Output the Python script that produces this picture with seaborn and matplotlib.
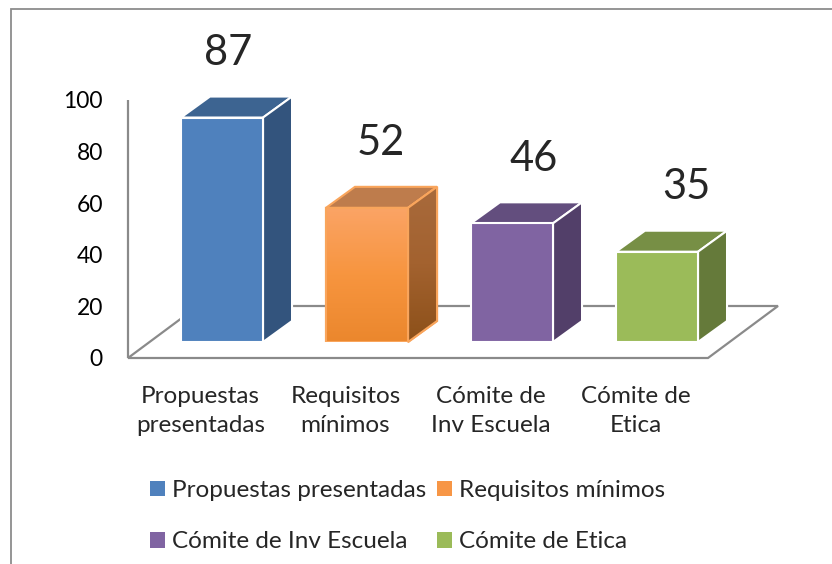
import matplotlib
matplotlib.use("Agg")
import matplotlib.pyplot as plt
import matplotlib.transforms as mtrans
from matplotlib.patches import Polygon, Rectangle, Patch
from matplotlib.colors import LinearSegmentedColormap
import numpy as np
import pandas as pd
import seaborn as sns

# ---------------- data ----------------
categories = ["Propuestas presentadas", "Requisitos mínimos",
              "Cómite de Inv Escuela", "Cómite de Etica"]
tick_labels = ["Propuestas\npresentadas", "Requisitos\nmínimos",
               "Cómite de\nInv Escuela", "Cómite de\nEtica"]
values = [87, 52, 46, 35]
y_ticks = [0, 20, 40, 60, 80, 100]

# ---------------- styles ----------------
front_colors = ["#4F81BD", "#F79646", "#8064A2", "#9BBB59"]
top_colors = ["#3D6491", "#BE7C4C", "#634E7E", "#778F45"]
side_colors = ["#33547D", "#9C5F2E", "#523F69", "#657A3A"]
edge_colors = ["white", "#F9A55C", "white", "white"]

sns.set_style("white")
plt.rcParams["font.family"] = ["Lato", "DejaVu Sans"]

DPI = 100
W, H = 832, 564
FS = 17.5
fig = plt.figure(figsize=(W / DPI, H / DPI), dpi=DPI)
fig.patch.set_facecolor("white")


def fx(px):
    return px / W


def fy(py):
    return 1 - py / H


# outer frame
fig.add_artist(Rectangle((fx(11), fy(570)), fx(845) - fx(11), fy(9) - fy(570),
                         transform=fig.transFigure, fill=False,
                         edgecolor="#8C8C8C", lw=1.3, clip_on=False))

# bar plane axes
ax = fig.add_axes([fx(149.5), fy(342), (729.5 - 149.5) / W, 258 / H])
df = pd.DataFrame({"cat": categories, "val": values})
sns.barplot(data=df, x="cat", y="val", hue="cat", palette=front_colors,
            hue_order=categories, order=categories,
            width=0.566, edgecolor="white", linewidth=1.5, legend=False,
            saturation=1, ax=ax, zorder=4)
ax.set_xlim(-0.5, 3.5)
ax.set_ylim(0, 100)
ax.axis("off")

bars = list(ax.patches)

# pixel per unit
p0 = ax.transData.transform((0, 0))
p1 = ax.transData.transform((1, 1))
ppx = p1[0] - p0[0]
ppy = p1[1] - p0[1]

ddx, ddy = 29 / ppx, 21 / ppy          # bar depth
fdx, fdy = -21.5 / ppx, -16 / ppy      # front plane shift
bdx, bdy = 48.5 / ppx, 36 / ppy        # back plane shift

# floor
xl0, xl1 = ax.get_xlim()
floor = Polygon([(xl0 + fdx, fdy), (xl1 + fdx, fdy), (xl1 + bdx, bdy), (xl0 + bdx, bdy)],
                closed=True, fc="white", ec="#8A8A8A", lw=1.6, zorder=1, clip_on=False)
ax.add_patch(floor)
# vertical axis line
ax.plot([xl0 + fdx, xl0 + fdx], [fdy, 100 + fdy], color="#8A8A8A", lw=1.6,
        zorder=1, clip_on=False, solid_capstyle="butt")

# y tick labels
tick_off = mtrans.ScaledTranslation(-25 / DPI, 0, fig.dpi_scale_trans)
for t in y_ticks:
    ax.text(xl0 + fdx, t + fdy, str(t), ha="right", va="center_baseline",
            fontsize=16.5, color="black", transform=ax.transData + tick_off,
            clip_on=False)

# category labels
cat_off = mtrans.ScaledTranslation(0, -28 / DPI, fig.dpi_scale_trans)
for i, lab in enumerate(tick_labels):
    ax.text(i + fdx, fdy, lab, ha="center", va="top", fontsize=FS,
            linespacing=1.45, transform=ax.transData + cat_off, clip_on=False)

# 3D faces
orange_front = LinearSegmentedColormap.from_list("of", ["#EB872D", "#F7953F", "#FBA466"])
orange_side = LinearSegmentedColormap.from_list("os", ["#8C5019", "#A3622F", "#A86A3C"])
grad = np.linspace(0, 1, 256).reshape(-1, 1)
for i, p in enumerate(bars):
    x0, w, h = p.get_x(), p.get_width(), p.get_height()
    ec = edge_colors[i]
    p.set_edgecolor(ec)
    top = Polygon([(x0, h), (x0 + w, h), (x0 + w + ddx, h + ddy), (x0 + ddx, h + ddy)],
                  closed=True, fc=top_colors[i], ec=ec, lw=1.5, zorder=3, clip_on=False)
    side = Polygon([(x0 + w, 0), (x0 + w + ddx, ddy), (x0 + w + ddx, h + ddy), (x0 + w, h)],
                   closed=True, fc=side_colors[i], ec=ec, lw=1.5, zorder=3, clip_on=False)
    ax.add_patch(top)
    ax.add_patch(side)
    if i == 1:
        im = ax.imshow(grad, extent=(x0, x0 + w, 0, h), origin="lower",
                       cmap=orange_front, aspect="auto", zorder=4.1)
        im.set_clip_path(p)
        im2 = ax.imshow(grad, extent=(x0 + w, x0 + w + ddx, 0, h + ddy), origin="lower",
                        cmap=orange_side, aspect="auto", zorder=3.1)
        im2.set_clip_path(side)
        edge_f = Polygon([(x0, 0), (x0 + w, 0), (x0 + w, h), (x0, h)],
                         closed=True, fill=False, ec=ec, lw=1.5, zorder=4.2)
        ax.add_patch(edge_f)
        edge_s = Polygon(side.get_xy(), closed=True, fill=False, ec=ec, lw=1.5,
                         zorder=3.2, clip_on=False)
        ax.add_patch(edge_s)
ax.set_xlim(-0.5, 3.5)
ax.set_ylim(0, 100)

# value labels (own plane)
lab_ax = fig.add_axes([fx(151.7), fy(342), (762.3 - 151.7) / W, 258 / H])
lab_ax.set_xlim(-0.5, 3.5)
lab_ax.set_ylim(0, 100)
lab_ax.axis("off")
val_off = mtrans.ScaledTranslation(0, 68 / DPI, fig.dpi_scale_trans)
for i, v in enumerate(values):
    lab_ax.text(i, v, str(v), ha="center", va="center_baseline", fontsize=30,
                transform=lab_ax.transData + val_off, clip_on=False)

# legend (row-wise order: matplotlib fills columns first)
order = [0, 2, 1, 3]
handles = [Patch(facecolor=front_colors[k], edgecolor="none") for k in order]
labels = [categories[k] for k in order]
fig.legend(handles, labels, loc="upper left",
           bbox_to_anchor=(fx(150), fy(480)), ncol=2, frameon=False,
           fontsize=FS, handlelength=0.6, handleheight=0.6,
           handletextpad=0.3, columnspacing=0.45, labelspacing=1.25,
           borderpad=0, borderaxespad=0)

fig.savefig("out.png", dpi=DPI, facecolor="white")
